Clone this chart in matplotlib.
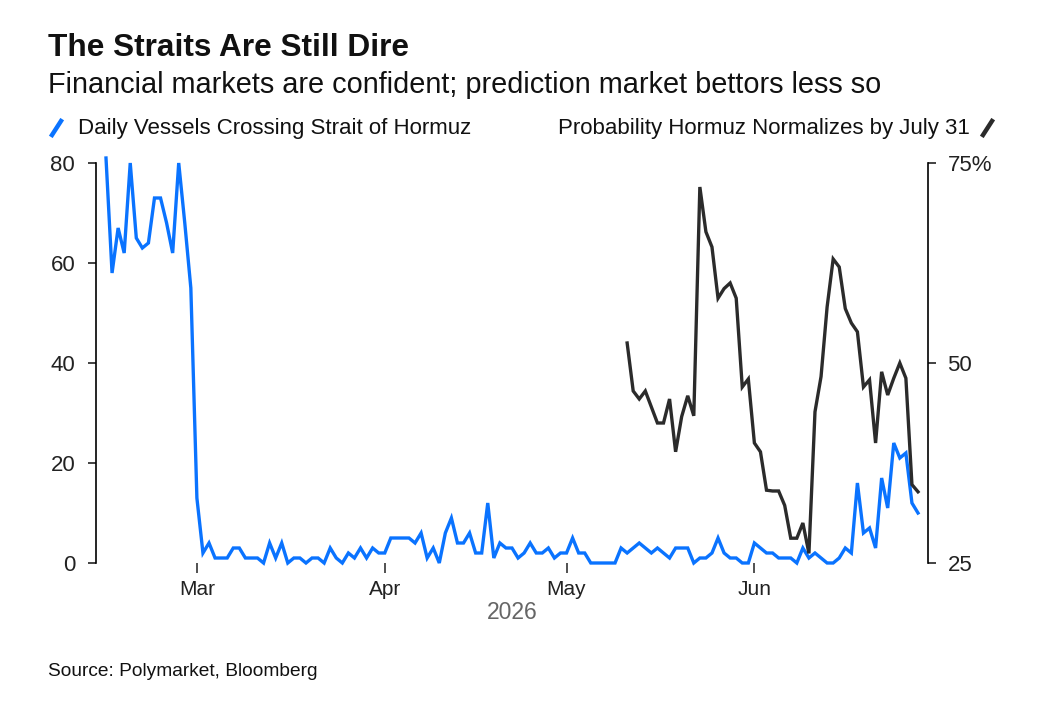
import pandas as pd
import matplotlib.pyplot as plt
import matplotlib.dates as mdates
from matplotlib.lines import Line2D

plt.rcParams['font.family'] = ['Liberation Sans', 'DejaVu Sans']

# daily vessels crossing, Feb 14 - Jun 28 2026
vessel_dates = pd.date_range('2026-02-14', '2026-06-28')
vessels = [81, 58, 67, 62, 80, 65, 63, 64, 73, 73, 68, 62, 80, 68, 55,
           13, 2, 4, 1, 1, 1, 3, 3, 1, 1, 1, 0, 4, 1, 4, 0, 1, 1, 0, 1, 1, 0,
           3, 1, 0, 2, 1, 3, 1, 3, 2,
           2, 5, 5, 5, 5, 4, 6, 1, 3, 0, 6, 9, 4, 4, 6, 2, 2, 12, 1, 4, 3, 3,
           1, 2, 4, 2, 2, 3, 1, 2,
           2, 5, 2, 2, 0, 0, 0, 0, 0, 3, 2, 3, 4, 3, 2, 3, 2, 1, 3, 3, 3, 0,
           1, 1, 2, 5, 2, 1, 1, 0, 0,
           4, 3, 2, 2, 1, 1, 1, 0, 3, 1, 2, 1, 0, 0, 1, 3, 2, 16, 6, 7, 3, 17,
           11, 24, 21, 22, 12, 10]

# polymarket probability (%), May 11 - Jun 28 2026
prob_dates = pd.date_range('2026-05-11', '2026-06-28')
prob = [52.5, 46.5, 45.5, 46.5, 44.5, 42.5, 42.5, 45.5, 38.9, 43.3, 45.9,
        43.4, 72.0, 66.4, 64.5, 58.1, 59.3, 60.0, 58.1, 47.0, 48.0,
        40.0, 38.9, 34.1, 34.0, 34.0, 32.2, 28.1, 28.1, 30.0, 26.2, 43.9,
        48.3, 57.0, 63.0, 62.0, 56.8, 55.0, 53.9, 47.0, 47.9, 40.0, 48.9,
        46.0, 48.1, 50.0, 48.1, 34.8, 33.9]

left_ticks = [0, 20, 40, 60, 80]
right_ticks = [25, 50, 75]
right_labels = ['25', '50', '75%']

BLUE = '#0A73FF'
DARK = '#2B2B2B'
W, H = 1044, 714

fig = plt.figure(figsize=(W / 100, H / 100), dpi=100)
ax = fig.add_axes([96 / W, 1 - 563 / H, (928 - 96) / W, 400 / H])
ax2 = ax.twinx()

ax.plot(vessel_dates, vessels, color=BLUE, lw=2.4, clip_on=False,
        solid_joinstyle='miter')
ax2.plot(prob_dates, prob, color=DARK, lw=2.4, clip_on=False,
         solid_joinstyle='miter')

pad = pd.Timedelta(days=1.65)
ax.set_xlim(vessel_dates[0] - pad, vessel_dates[-1] + pad)
ax.set_ylim(0, 80)
ax2.set_ylim(25, 75)

ax.set_yticks(left_ticks)
ax2.set_yticks(right_ticks)
ax2.set_yticklabels(right_labels)

ax.xaxis.set_major_locator(mdates.MonthLocator())
ax.xaxis.set_major_formatter(mdates.DateFormatter('%b'))

for a in (ax, ax2):
    for s in a.spines.values():
        s.set_visible(False)
ax.spines['left'].set_visible(True)
ax2.spines['right'].set_visible(True)
ax.spines['left'].set_linewidth(1.2)
ax2.spines['right'].set_linewidth(1.2)

ax.tick_params(axis='y', length=6, width=1.2, pad=9, labelsize=16,
               colors='#222222')
ax2.tick_params(axis='y', length=6, width=1.2, pad=8, labelsize=16,
                colors='#222222')
ax.tick_params(axis='x', length=7, width=1.1, pad=5, labelsize=15,
               colors='#222222')
ax.set_xlabel('2026', fontsize=16.5, color='#666666', labelpad=2)


def fx(x):
    return x / W


def fy(y):
    return 1 - y / H


fig.text(fx(48), fy(56), 'The Straits Are Still Dire', fontsize=22.8,
         fontweight='bold', va='baseline', color='#111111')
fig.text(fx(48), fy(93),
         'Financial markets are confident; prediction market bettors less so',
         fontsize=20.8, va='baseline', color='#111111')

fig.text(fx(78), fy(134), 'Daily Vessels Crossing Strait of Hormuz',
         fontsize=16, va='baseline', color='#111111')
fig.add_artist(Line2D([fx(52), fx(61)], [fy(135), fy(121)], color=BLUE,
                      lw=3.2))
fig.text(fx(970), fy(134), 'Probability Hormuz Normalizes by July 31',
         fontsize=16, va='baseline', ha='right', color='#111111')
fig.add_artist(Line2D([fx(983), fx(992)], [fy(135), fy(121)], color=DARK,
                      lw=3.2))

fig.text(fx(48), fy(676), 'Source: Polymarket, Bloomberg', fontsize=13.8,
         va='baseline', color='#111111')

fig.savefig('out.png', dpi=100)
